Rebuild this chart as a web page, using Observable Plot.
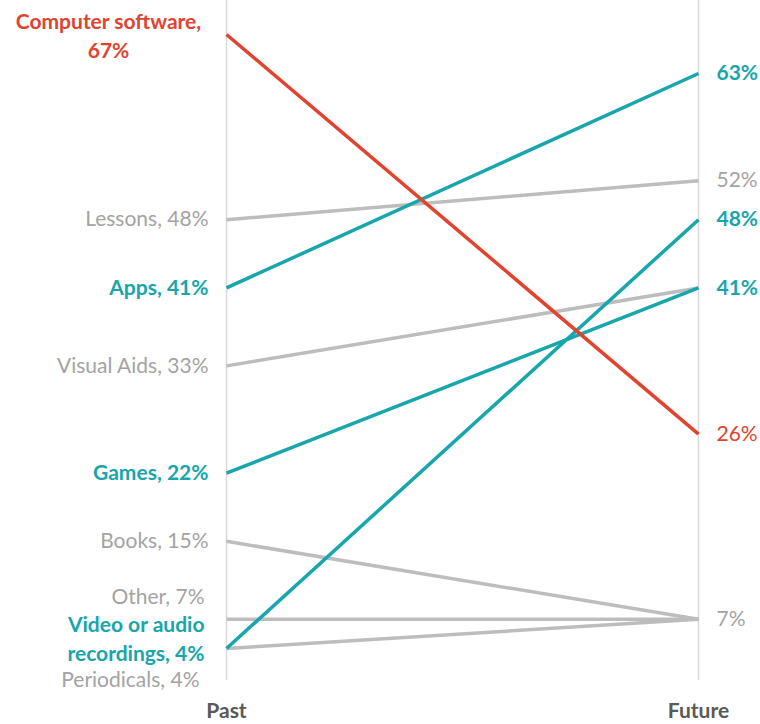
<!DOCTYPE html>
<html><head><meta charset="utf-8">
<script src="https://cdn.jsdelivr.net/npm/d3@7"></script>
<script src="https://cdn.jsdelivr.net/npm/@observablehq/plot@0.6"></script>
<style>body{margin:0;background:#fff}</style>
</head><body><div id="chart"></div>
<script>
const periods = ["Past", "Future"];
const categories = ["Computer software", "Lessons", "Apps", "Visual Aids", "Games", "Books", "Other", "Video or audio recordings", "Periodicals"];
const pastValues = [67, 48, 41, 33, 22, 15, 7, 4, 4];
const futureValues = [26, 52, 63, 41, 41, 7, 7, 48, 7];
const groups = ["down", "neutral", "up", "neutral", "up", "neutral", "neutral", "up", "neutral"];
const leftLabels = ["Computer software,\n67%", "Lessons, 48%", "Apps, 41%", "Visual Aids, 33%", "Games, 22%", "Books, 15%", "Other, 7%", "Video or audio\nrecordings, 4%", "Periodicals, 4%"];
const rightValues = [63, 52, 48, 41, 26, 7];
const rightGroups = ["up", "neutral", "up", "up", "down", "neutral"];
const rightLabels = ["63%", "52%", "48%", "41%", "26%", "7%"];

const groupDomain = ["down", "up", "neutral"];
const lineColors = ["#e2432f", "#17a6ab", "#bdbdbd"];
const textColors = ["#e2432f", "#17a6ab", "#a3a3a3"];
const textColor = g => textColors[groupDomain.indexOf(g)];

const rows = categories.flatMap((c, i) => [
  {category: c, period: periods[0], value: pastValues[i], group: groups[i]},
  {category: c, period: periods[1], value: futureValues[i], group: groups[i]}
]);
const left = categories.map((c, i) => ({category: c, value: pastValues[i], group: groups[i], label: leftLabels[i]}));
const right = rightValues.map((v, i) => ({value: v, group: rightGroups[i], label: rightLabels[i]}));

const pick = names => left.filter(d => names.includes(d.category));

const chart = Plot.plot({
  width: 760,
  height: 724,
  marginLeft: 226,
  marginRight: 62,
  marginTop: 0,
  marginBottom: 44,
  style: {fontFamily: "Lato", fontSize: "21px", background: "#fff"},
  x: {domain: periods, type: "point", padding: 0, axis: null},
  y: {domain: [0.72, 70.49], axis: null},
  color: {domain: groupDomain, range: lineColors},
  marks: [
    Plot.ruleX(periods, {stroke: "#d9d9d9", strokeWidth: 1.5}),
    ...["neutral", "up", "down"].map(g => Plot.line(rows.filter(d => d.group === g), {
      x: "period", y: "value", z: "category", stroke: "group", strokeWidth: 3.5, strokeLinecap: "butt"
    })),
    Plot.text(pick(["Lessons", "Visual Aids", "Books"]), {
      x: () => periods[0], y: "value", text: "label", textAnchor: "end", dx: -18,
      fill: d => textColor(d.group)
    }),
    Plot.text(pick(["Apps", "Games"]), {
      x: () => periods[0], y: "value", text: "label", textAnchor: "end", dx: -18,
      fill: d => textColor(d.group), fontWeight: "bold"
    }),
    Plot.text(pick(["Computer software"]), {
      x: () => periods[0], y: "value", text: "label", textAnchor: "middle", dx: -118, lineHeight: 1.38,
      fill: d => textColor(d.group), fontWeight: "bold"
    }),
    Plot.text(pick(["Other"]), {
      x: () => periods[0], y: "value", text: "label", textAnchor: "end", dx: -22, dy: -22,
      fill: d => textColor(d.group)
    }),
    Plot.text(pick(["Video or audio recordings"]), {
      x: () => periods[0], y: "value", text: "label", textAnchor: "end", dx: -22, dy: -11, lineHeight: 1.38,
      fill: d => textColor(d.group), fontWeight: "bold"
    }),
    Plot.text(pick(["Periodicals"]), {
      x: () => periods[0], y: "value", text: "label", textAnchor: "end", dx: -27, dy: 32,
      fill: d => textColor(d.group)
    }),
    Plot.text(right.filter(d => d.group !== "up"), {
      x: () => periods[1], y: "value", text: "label", textAnchor: "start", dx: 18,
      fill: d => textColor(d.group)
    }),
    Plot.text(right.filter(d => d.group === "up"), {
      x: () => periods[1], y: "value", text: "label", textAnchor: "start", dx: 18,
      fill: d => textColor(d.group), fontWeight: "bold"
    }),
    Plot.axisX({anchor: "bottom", tickSize: 0, tickPadding: 23, fontWeight: "bold", fill: "#595959", fontSize: 21, label: null})
  ]
});
document.getElementById("chart").appendChild(chart);
</script>
</body></html>
